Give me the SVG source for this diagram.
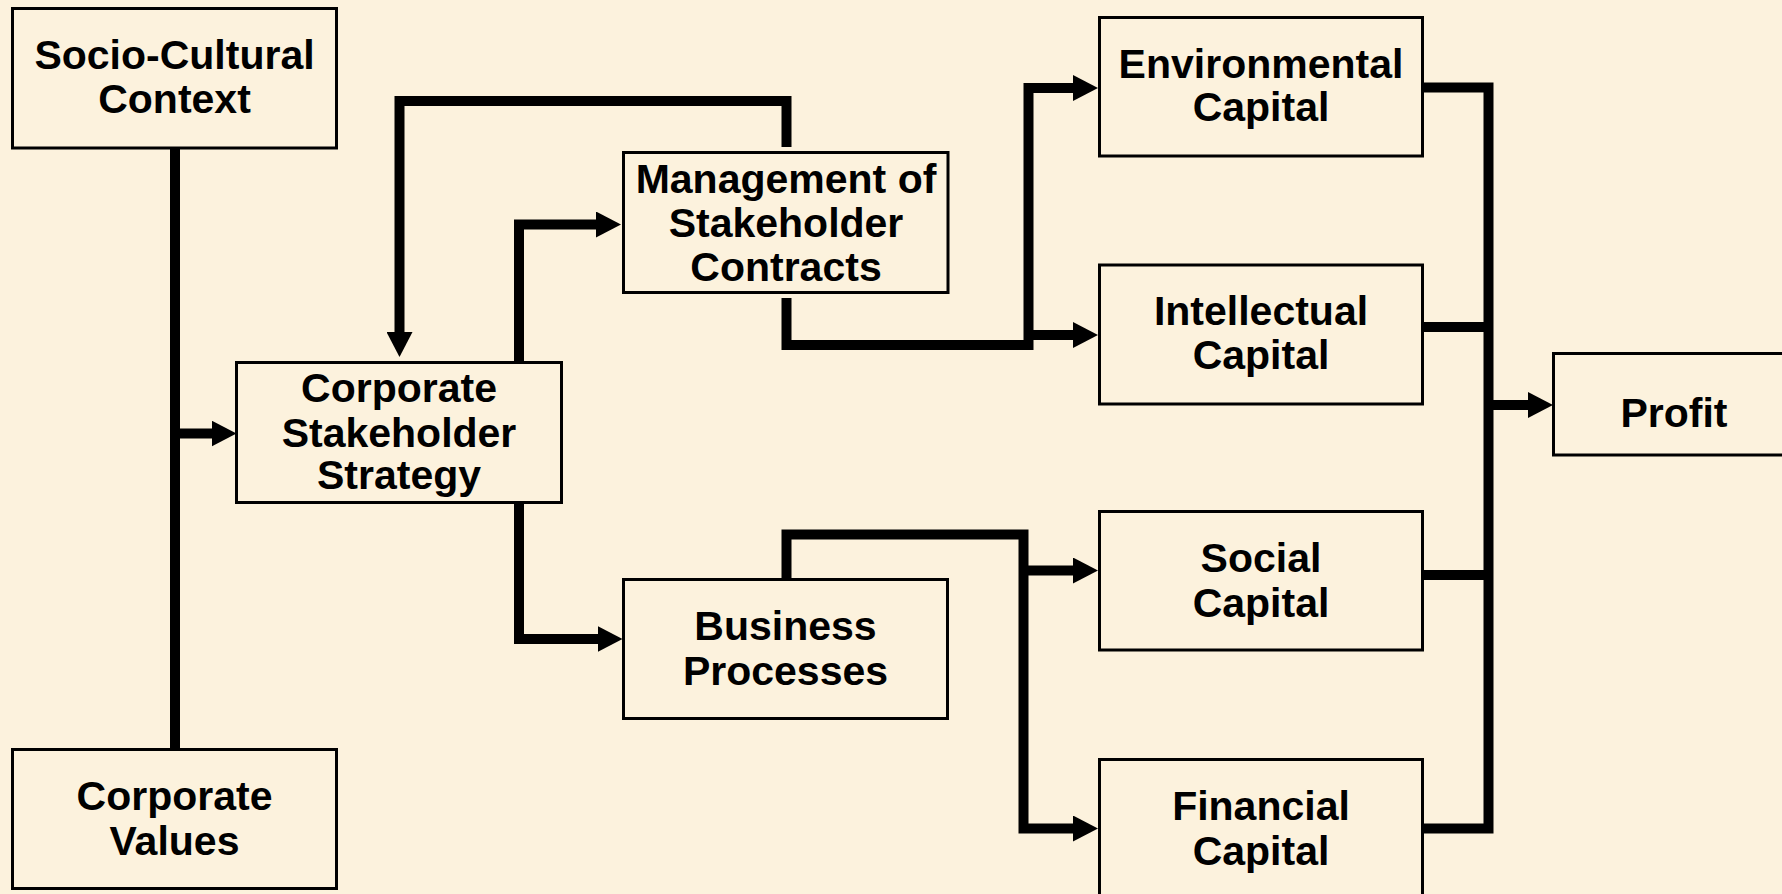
<svg xmlns="http://www.w3.org/2000/svg" width="1782" height="894" viewBox="0 0 1782 894">
<style>
.box{fill:none;stroke:#000;stroke-width:3}
.lbl{font-family:"Liberation Sans",Arial,Helvetica,sans-serif;font-weight:bold;font-size:41px;fill:#000;text-anchor:middle}
.con{fill:none;stroke:#000;stroke-width:10;stroke-linejoin:miter;stroke-linecap:butt}
.arr{marker-end:url(#ah)}
</style>
<defs>
<marker id="ah" viewBox="0 0 25 26" refX="3" refY="13" markerWidth="25" markerHeight="26" markerUnits="userSpaceOnUse" orient="auto">
<path d="M0,0 L25,13 L0,26 z" fill="#000"/>
</marker>
</defs>
<rect width="1782" height="894" fill="#FCF2DD"/>
<g id="connectors">
<path class="con" d="M175,148 V749"/>
<path class="con arr" d="M175,433.5 H214.5"/>
<path class="con arr" d="M786.5,147 V101 H399.5 V335"/>
<path class="con arr" d="M519,362.5 V224.5 H599"/>
<path class="con arr" d="M519,502.5 V639 H600.5"/>
<path class="con arr" d="M786.5,298 V345 H1028.5 V88 H1076"/>
<path class="con arr" d="M1028.5,335 H1076"/>
<path class="con arr" d="M786.5,579 V534.5 H1023.5 V828.5 H1076"/>
<path class="con arr" d="M1023.5,570.5 H1076"/>
<path class="con" d="M1422.5,87.5 H1488.5 V828.5 H1422.5"/>
<path class="con" d="M1422.5,327 H1488.5"/>
<path class="con" d="M1422.5,575 H1488.5"/>
<path class="con arr" d="M1488.5,405 H1531"/>
</g>
<g id="socio-cultural-context">
<rect class="box" x="12.5" y="8.5" width="324" height="139.5"/>
<text class="lbl" x="174.5" y="69">Socio-Cultural</text>
<text class="lbl" x="174.5" y="113">Context</text>
</g>
<g id="corporate-values">
<rect class="box" x="12.5" y="749.5" width="324" height="139"/>
<text class="lbl" x="174.5" y="810">Corporate</text>
<text class="lbl" x="174.5" y="855">Values</text>
</g>
<g id="corporate-stakeholder-strategy">
<rect class="box" x="236.5" y="362.5" width="325" height="140"/>
<text class="lbl" x="399" y="402">Corporate</text>
<text class="lbl" x="399" y="447">Stakeholder</text>
<text class="lbl" x="399" y="489">Strategy</text>
</g>
<g id="management-of-stakeholder-contracts">
<rect class="box" x="623.5" y="152.5" width="324.5" height="140"/>
<text class="lbl" x="786" y="193">Management of</text>
<text class="lbl" x="786" y="237">Stakeholder</text>
<text class="lbl" x="786" y="280.5">Contracts</text>
</g>
<g id="business-processes">
<rect class="box" x="623.5" y="579.5" width="324" height="139"/>
<text class="lbl" x="785.5" y="640">Business</text>
<text class="lbl" x="785.5" y="685">Processes</text>
</g>
<g id="environmental-capital">
<rect class="box" x="1099.5" y="17.5" width="323" height="138.5"/>
<text class="lbl" x="1261" y="77.5">Environmental</text>
<text class="lbl" x="1261" y="121">Capital</text>
</g>
<g id="intellectual-capital">
<rect class="box" x="1099.5" y="265" width="323" height="139"/>
<text class="lbl" x="1261" y="325">Intellectual</text>
<text class="lbl" x="1261" y="368.5">Capital</text>
</g>
<g id="social-capital">
<rect class="box" x="1099.5" y="511.5" width="323" height="138.5"/>
<text class="lbl" x="1261" y="571.5">Social</text>
<text class="lbl" x="1261" y="616.5">Capital</text>
</g>
<g id="financial-capital">
<rect class="box" x="1099.5" y="759.5" width="323" height="139"/>
<text class="lbl" x="1261" y="820">Financial</text>
<text class="lbl" x="1261" y="865">Capital</text>
</g>
<g id="profit">
<rect class="box" x="1553.5" y="353.5" width="242" height="101.5"/>
<text class="lbl" x="1674" y="426.5">Profit</text>
</g>
</svg>
